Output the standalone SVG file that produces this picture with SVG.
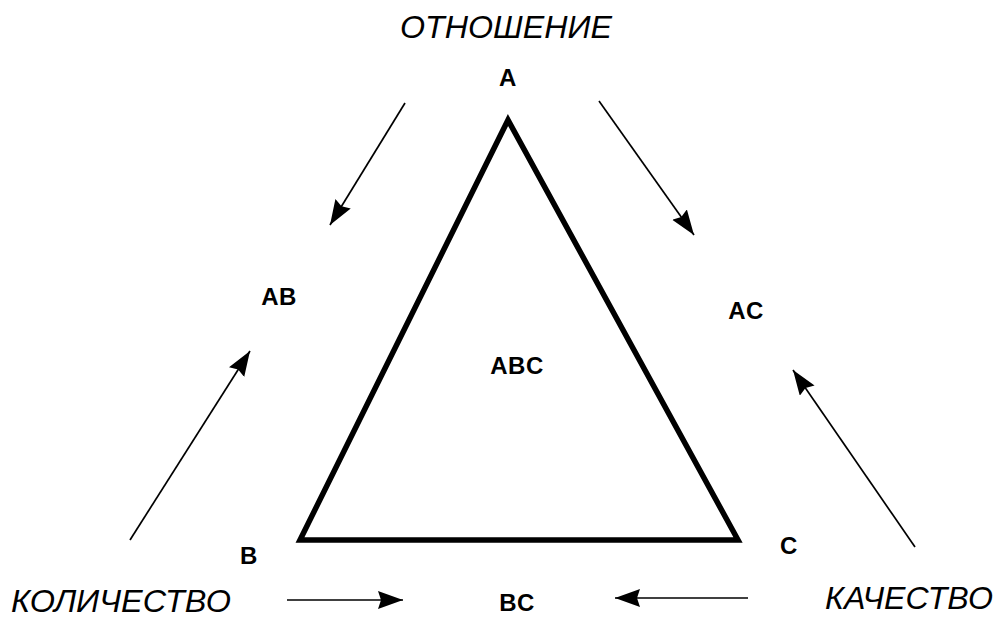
<svg xmlns="http://www.w3.org/2000/svg" width="1001" height="619" viewBox="0 0 1001 619">
<defs>
<marker id="ah" markerUnits="userSpaceOnUse" markerWidth="28" markerHeight="20" refX="25" refY="9" orient="auto">
<path d="M0,0 L25,9 L0,18 L3,9 Z" fill="#000"/>
</marker>
<style>
.it{font-family:"Liberation Sans",Arial,sans-serif;font-style:italic;font-size:31px;fill:#000}
.bd{font-family:"Liberation Sans",Arial,sans-serif;font-weight:bold;font-size:24px;fill:#000;text-anchor:middle;letter-spacing:0.5px}
.ar{stroke:#000;stroke-width:1.7;fill:none;marker-end:url(#ah)}
</style>
</defs>
<rect width="1001" height="619" fill="#fff"/>
<g id="triangle">
<polygon points="508,120 300,540 738,540" fill="none" stroke="#000" stroke-width="5.5" stroke-linejoin="miter"/>
</g>
<g id="labels">
<text class="it" x="400" y="38" textLength="212" lengthAdjust="spacingAndGlyphs">ОТНОШЕНИЕ</text>
<text class="it" x="11" y="612" textLength="220" lengthAdjust="spacingAndGlyphs">КОЛИЧЕСТВО</text>
<text class="it" x="825" y="609" textLength="168" lengthAdjust="spacingAndGlyphs">КАЧЕСТВО</text>
</g>
<g id="node-A"><text class="bd" x="508" y="86">A</text></g>
<g id="node-B"><text class="bd" x="249" y="564">B</text></g>
<g id="node-C"><text class="bd" x="789" y="554">C</text></g>
<g id="node-AB"><text class="bd" x="279" y="305">AB</text></g>
<g id="node-AC"><text class="bd" x="746" y="319">AC</text></g>
<g id="node-ABC"><text class="bd" x="517" y="374">ABC</text></g>
<g id="node-BC"><text class="bd" x="517" y="611">BC</text></g>
<g id="connectors">
<line class="ar" x1="405" y1="103" x2="330" y2="225"/>
<line class="ar" x1="599" y1="101" x2="694" y2="235"/>
<line class="ar" x1="130" y1="540" x2="250" y2="351"/>
<line class="ar" x1="915" y1="547" x2="793" y2="370"/>
<line class="ar" x1="287" y1="600" x2="403" y2="600"/>
<line class="ar" x1="748" y1="598" x2="615" y2="598"/>
</g>
</svg>
